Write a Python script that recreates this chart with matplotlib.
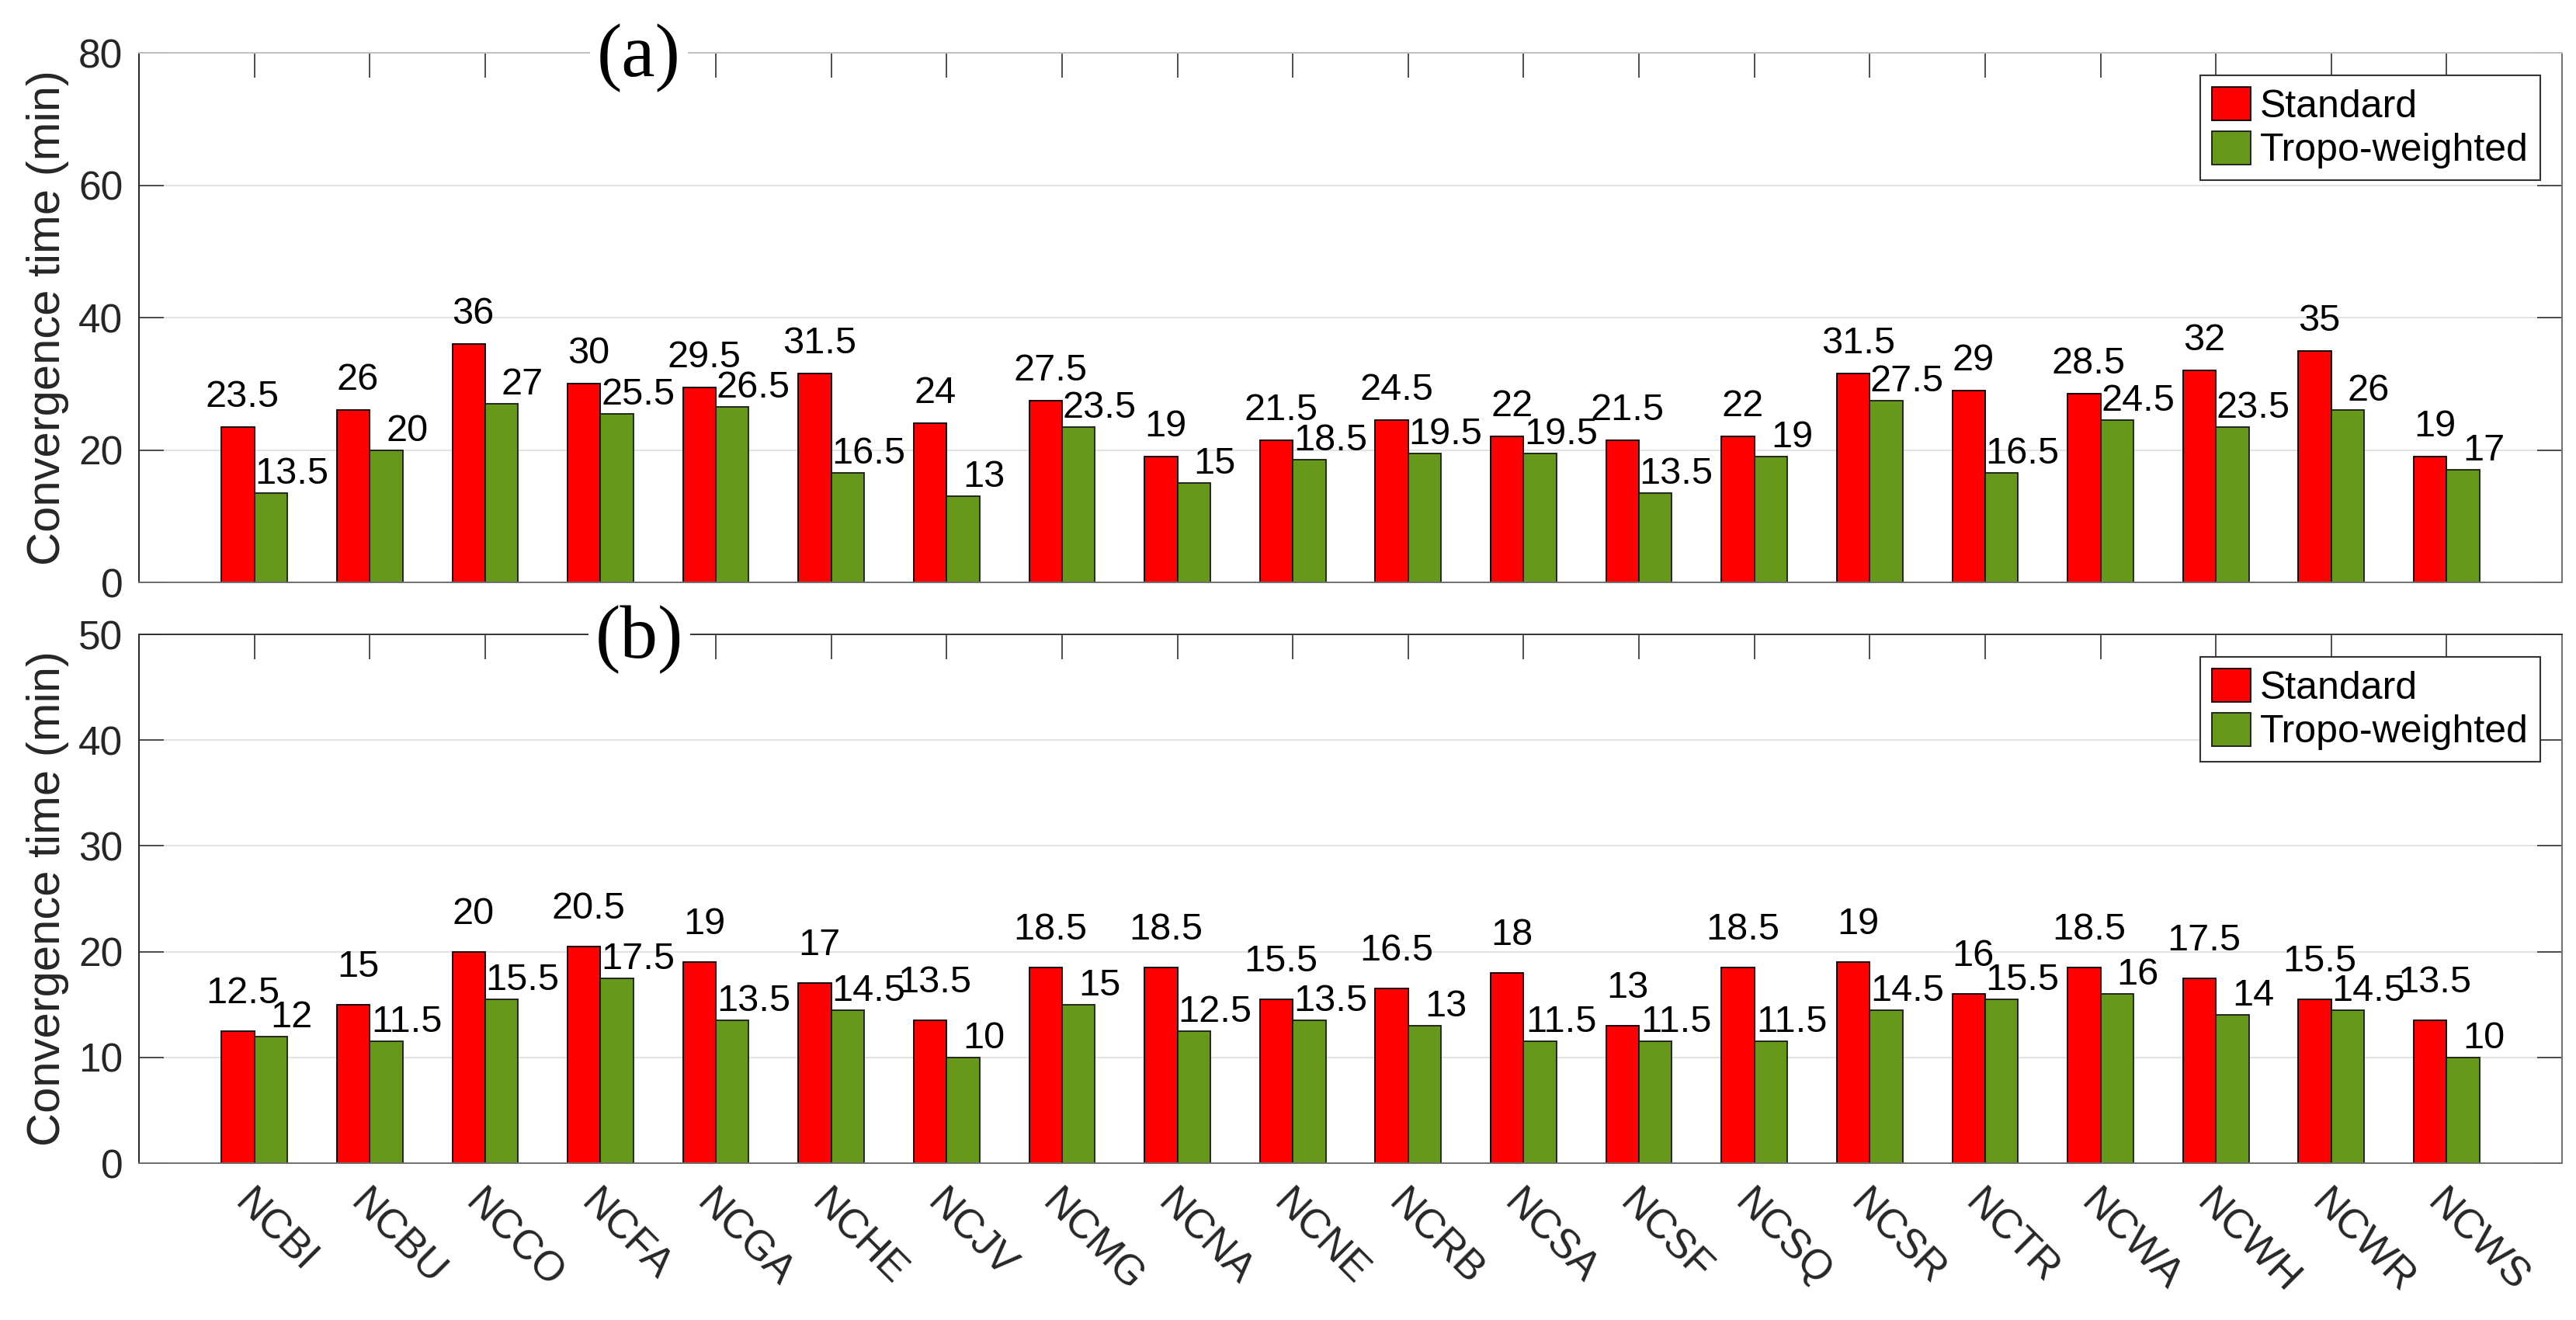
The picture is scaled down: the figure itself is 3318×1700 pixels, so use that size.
import matplotlib
matplotlib.use('Agg')
import matplotlib.pyplot as plt
import numpy as np

stations = ['NCBI', 'NCBU', 'NCCO', 'NCFA', 'NCGA', 'NCHE', 'NCJV', 'NCMG', 'NCNA', 'NCNE',
            'NCRB', 'NCSA', 'NCSF', 'NCSQ', 'NCSR', 'NCTR', 'NCWA', 'NCWH', 'NCWR', 'NCWS']
standard_a = [23.5, 26, 36, 30, 29.5, 31.5, 24, 27.5, 19, 21.5, 24.5, 22, 21.5, 22, 31.5, 29, 28.5, 32, 35, 19]
tropo_a = [13.5, 20, 27, 25.5, 26.5, 16.5, 13, 23.5, 15, 18.5, 19.5, 19.5, 13.5, 19, 27.5, 16.5, 24.5, 23.5, 26, 17]
standard_b = [12.5, 15, 20, 20.5, 19, 17, 13.5, 18.5, 18.5, 15.5, 16.5, 18, 13, 18.5, 19, 16, 18.5, 17.5, 15.5, 13.5]
tropo_b = [12, 11.5, 15.5, 17.5, 13.5, 14.5, 10, 15, 12.5, 13.5, 13, 11.5, 11.5, 11.5, 14.5, 15.5, 16, 14, 14.5, 10]
series_names = ['Standard', 'Tropo-weighted']
ylabel = 'Convergence time (min)'

plt.rcParams['font.family'] = ['Liberation Sans', 'DejaVu Sans']

fig = plt.figure(figsize=(33.18, 17), dpi=100)
ax_a = fig.add_axes([0.05395, 0.55882, 0.94063, 0.40118])
ax_b = fig.add_axes([0.05395, 0.11882, 0.94063, 0.40059])

RED = '#FF0000'
GREEN = '#66991A'
AXC = '#262626'
x = np.arange(1, len(stations) + 1)
bw = 0.285


def panel(ax, s, t, ymax, ystep, red_off, tag, top_spine_color):
    ax.set_axisbelow(True)
    ax.bar(x - bw / 2, s, bw, color=RED, edgecolor='black', linewidth=1.3, label=series_names[0])
    ax.bar(x + bw / 2, t, bw, color=GREEN, edgecolor='#1a1a1a', linewidth=1.3, label=series_names[1])
    for xi, v in zip(x, s):
        ax.annotate(f'{v:g}', (xi - bw / 2, v), xytext=(6, red_off), textcoords='offset pixels',
                    ha='center', va='baseline', fontsize=35, color='black')
    for xi, v in zip(x, t):
        ax.annotate(f'{v:g}', (xi + bw / 2, v), xytext=(27, 12), textcoords='offset pixels',
                    ha='center', va='baseline', fontsize=35, color='black')
    ax.set_xlim(0, 21)
    ax.set_ylim(0, ymax)
    ax.set_yticks(np.arange(0, ymax + 1, ystep))
    ax.set_xticks(x)
    ax.yaxis.grid(True, color='#e3e3e3', linewidth=1.5)
    ax.xaxis.grid(False)
    ax.tick_params(axis='both', direction='in', length=23, width=1.3, color='#404040',
                   top=True, right=True, labelcolor=AXC)
    ax.tick_params(axis='y', labelsize=37, pad=15)
    ax.tick_params(axis='x', labelsize=38, pad=19)
    for side in ['left', 'right', 'bottom', 'top']:
        ax.spines[side].set_linewidth(1.4)
    ax.spines['left'].set_color(AXC)
    ax.spines['right'].set_color('#707070')
    ax.spines['bottom'].set_color('#707070')
    ax.spines['top'].set_color(top_spine_color)
    ax.set_ylabel(ylabel, fontsize=43, color=AXC)
    ax.yaxis.set_label_coords(-0.0288, 0.5)
    leg = ax.legend(loc='upper right', bbox_to_anchor=(0.991, 0.957), borderaxespad=0,
                    fontsize=36, frameon=True, fancybox=False, edgecolor='#333333', framealpha=1,
                    handlelength=1.0, handleheight=0.95, handletextpad=0.25, labelspacing=0.15,
                    borderpad=0.3)
    leg.get_frame().set_linewidth(1.5)
    ax.text(0.2064, 0.99, tag, transform=ax.transAxes, ha='center', va='center', fontsize=70,
            family=['Liberation Serif', 'DejaVu Serif'], color='black', zorder=10, clip_on=False,
            bbox=dict(facecolor='white', edgecolor='none', pad=6))


panel(ax_a, standard_a, tropo_a, 80, 20, 26, '(a)', '#c0c0c0')
panel(ax_b, standard_b, tropo_b, 50, 10, 36, '(b)', '#333333')

ax_a.tick_params(labelbottom=False)
ax_b.set_xticklabels(stations, rotation=-45, ha='left', va='top', rotation_mode='anchor')

fig.savefig('out.png', dpi=100, facecolor='white')
